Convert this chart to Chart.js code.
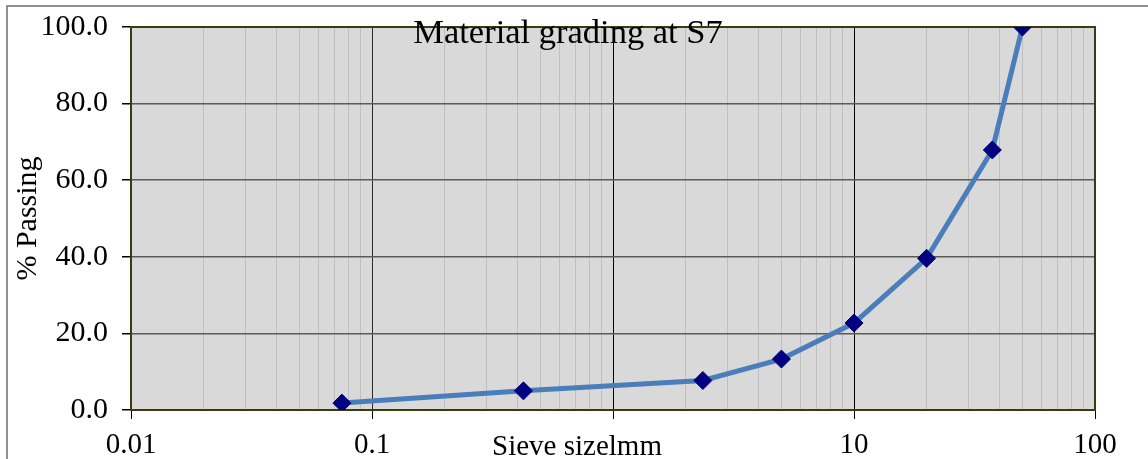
<!DOCTYPE html>
<html>
<head>
<meta charset="utf-8">
<script src="https://cdn.jsdelivr.net/npm/chart.js"></script>
<style>
html, body { margin: 0; padding: 0; background: #fff; overflow: hidden; }
#wrap { width: 1148px; height: 459px; }
</style>
</head>
<body>
<div id="wrap"><canvas id="gradingChart" width="1148" height="459"></canvas></div>
<script>
// grading curve data
var sieveSizes = [0.075, 0.425, 2.36, 5, 10, 20, 37.5, 50];
var percentPassing = [1.8, 5.0, 7.7, 13.3, 22.7, 39.6, 67.9, 100.0];
var xTickLabels = ['0.01', '0.1', '1', '10', '100'];
var yTickLabels = ['0.0', '20.0', '40.0', '60.0', '80.0', '100.0'];
var chartTitle = 'Material grading at S7';
var xAxisTitle = 'Sieve sizelmm';
var yAxisTitle = '% Passing';

var serif = '"Liberation Serif", "Times New Roman", serif';

function isDecade(v) {
    var l = Math.log10(v);
    return Math.abs(l - Math.round(l)) < 1e-6;
}

// background, outer frame, plot area fill and border
var framePlugin = {
    id: 'frame',
    beforeDraw: function(chart) {
        var c = chart.ctx, a = chart.chartArea;
        c.save();
        c.fillStyle = '#fff';
        c.fillRect(0, 0, chart.width, chart.height);
        c.strokeStyle = '#6e6e6e';
        c.lineWidth = 1.5;
        c.strokeRect(7, 6, 3000, 3000);
        c.fillStyle = '#d9d9d9';
        c.fillRect(a.left, a.top, a.right - a.left, a.bottom - a.top);
        c.restore();
    },
    beforeDatasetsDraw: function(chart) {
        var c = chart.ctx, a = chart.chartArea;
        c.save();
        c.strokeStyle = '#3b3b12';
        c.lineWidth = 2;
        c.strokeRect(a.left, a.top, a.right - a.left, a.bottom - a.top);
        c.restore();
    },
    afterDraw: function(chart) {
        var c = chart.ctx;
        c.save();
        c.fillStyle = '#000';
        c.textAlign = 'center';
        c.textBaseline = 'alphabetic';
        c.font = '34.5px ' + serif;
        c.fillText(chartTitle, 568, 43);
        // x axis title sits on the tick label row
        c.font = '29px ' + serif;
        var w = c.measureText(xAxisTitle).width;
        c.fillStyle = '#fff';
        c.fillRect(577 - w / 2 - 3, 428, w + 6, 31);
        c.fillStyle = '#000';
        c.fillText(xAxisTitle, 577, 455);
        c.restore();
    }
};

var ctx = document.getElementById('gradingChart').getContext('2d');
var gradingChart = new Chart(ctx, {
    type: 'line',
    data: {
        datasets: [{
            data: sieveSizes.map(function(s, i) { return { x: s, y: percentPassing[i] }; }),
            borderColor: '#4a7ebb',
            borderWidth: 5,
            pointStyle: 'rectRot',
            pointRadius: 9,
            pointBackgroundColor: '#000080',
            pointBorderColor: '#000080',
            pointBorderWidth: 1,
            tension: 0,
            fill: false
        }]
    },
    options: {
        responsive: false,
        animation: false,
        layout: { padding: { left: 0, top: 27, right: 53, bottom: 0 } },
        plugins: {
            legend: { display: false },
            title: { display: false },
            tooltip: { enabled: false }
        },
        scales: {
            x: {
                type: 'logarithmic',
                min: 0.01,
                max: 100,
                afterFit: function(scale) {
                    scale.height = 49;
                    scale.paddingLeft = 0;
                    scale.paddingRight = 0;
                },
                afterBuildTicks: function(scale) {
                    var t = [];
                    for (var k = 0; k < xTickLabels.length - 1; k++) {
                        var d = parseFloat(xTickLabels[k]);
                        for (var m = 1; m <= 9; m++) t.push({ value: m * d });
                    }
                    t.push({ value: parseFloat(xTickLabels[xTickLabels.length - 1]) });
                    scale.ticks = t;
                },
                border: { display: false },
                grid: {
                    drawOnChartArea: true,
                    drawTicks: true,
                    tickLength: 9,
                    lineWidth: 1,
                    color: function(c) {
                        var v = c.tick.value;
                        if (isDecade(v)) return v < 0.5 ? '#2a2a2a' : '#000';
                        return '#bfbfbf';
                    },
                    tickColor: function(c) { return isDecade(c.tick.value) ? '#000' : 'rgba(0,0,0,0)'; }
                },
                ticks: {
                    autoSkip: false,
                    maxRotation: 0,
                    padding: 9,
                    color: '#000',
                    font: { family: serif, size: 29 },
                    callback: function(value) {
                        for (var k = 0; k < xTickLabels.length; k++) {
                            if (Math.abs(parseFloat(xTickLabels[k]) - value) < 1e-9) return xTickLabels[k];
                        }
                        return '';
                    }
                }
            },
            y: {
                min: 0,
                max: 100,
                afterFit: function(scale) {
                    scale.width = 131;
                    scale.paddingTop = 0;
                    scale.paddingBottom = 0;
                },
                border: { display: false },
                grid: {
                    color: '#5a5a5a',
                    lineWidth: 1.5,
                    tickLength: 9,
                    tickColor: '#000'
                },
                ticks: {
                    stepSize: 20,
                    padding: 14,
                    color: '#000',
                    font: { family: serif, size: 30 },
                    callback: function(value, index) { return yTickLabels[index]; }
                },
                title: {
                    display: true,
                    text: yAxisTitle,
                    color: '#000',
                    font: { family: serif, size: 30 },
                    padding: { top: 10, bottom: 0 }
                }
            }
        }
    },
    plugins: [framePlugin]
});
</script>
</body>
</html>
